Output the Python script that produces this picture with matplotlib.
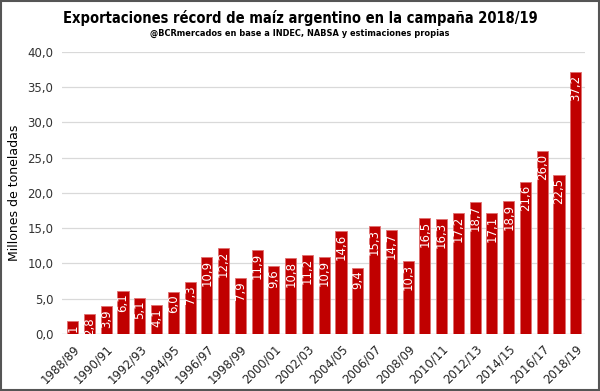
import matplotlib.pyplot as plt
from matplotlib.patches import Rectangle

seasons = [f"{y}/{str(y + 1)[-2:]}" for y in range(1988, 2019)]
valores = [1.8, 2.8, 3.9, 6.1, 5.1, 4.1, 6.0, 7.3, 10.9, 12.2, 7.9, 11.9, 9.6,
           10.8, 11.2, 10.9, 14.6, 9.4, 15.3, 14.7, 10.3, 16.5, 16.3, 17.2,
           18.7, 17.1, 18.9, 21.6, 26.0, 22.5, 37.2]
etiquetas = [f"{v:.1f}".replace(".", ",") for v in valores]
etiquetas[0] = "1"  # en el original la etiqueta queda cortada
yticks = [0, 5, 10, 15, 20, 25, 30, 35, 40]

plt.rcParams['font.family'] = ['DejaVu Sans']

fig = plt.figure(figsize=(6, 3.91), dpi=100)
ax = fig.add_axes([0.103, 0.146, 0.872, 0.721])

x = list(range(len(valores)))
ax.bar(x, valores, width=0.66, color='#C00000', edgecolor='#E07070', linewidth=0.6, zorder=3)

for xi, v, t in zip(x, valores, etiquetas):
    ax.text(xi, v - 0.4, t, rotation=90, ha='center', va='top', color='white',
            fontsize=8.5, zorder=4)

ax.set_ylim(0, 40)
ax.set_xlim(-0.65, len(valores) - 0.45)
ax.set_yticks(yticks)
ax.set_yticklabels([f"{t:.1f}".replace(".", ",") for t in yticks], fontsize=8.5,
                   color='#333333')
ax.set_xticks(x[::2])
ax.set_xticklabels(seasons[::2], rotation=45, ha='right', rotation_mode='anchor',
                   fontsize=8.5, color='#222222')
ax.tick_params(axis='both', length=0, pad=6)
ax.grid(axis='y', color='#D9D9D9', linewidth=0.9, zorder=0)
for s in ax.spines.values():
    s.set_visible(False)
ax.axhline(0, color='#D9D9D9', linewidth=0.9, zorder=2)

ax.set_ylabel('Millones de toneladas', fontsize=9)
ax.yaxis.set_label_coords(-0.078, 0.5)

fig.text(0.5, 0.955, 'Exportaciones récord de maíz argentino en la campaña 2018/19',
         ha='center', va='center', fontsize=10.5, fontweight='bold', fontstretch='condensed')
fig.text(0.5, 0.914, '@BCRmercados en base a INDEC, NABSA y estimaciones propias',
         ha='center', va='center', fontsize=6.6, fontweight='bold', fontstretch='condensed')

fig.patches.append(Rectangle((0.002, 0.003), 0.996, 0.994, transform=fig.transFigure,
                             fill=False, edgecolor='#555555', linewidth=1.5))

plt.savefig('out.png', dpi=100)
